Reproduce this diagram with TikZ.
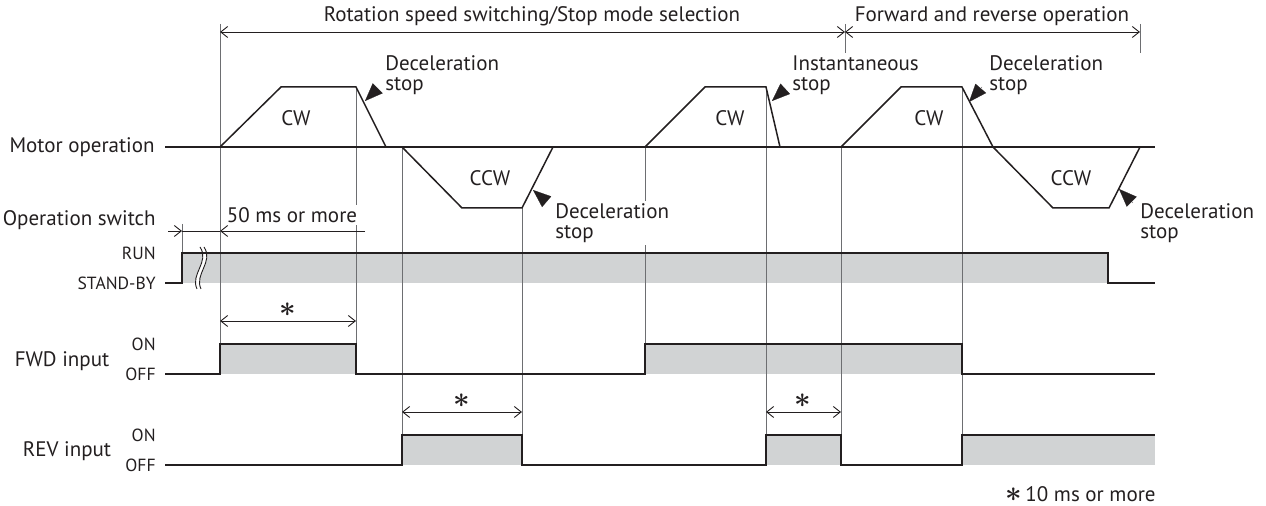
\documentclass[tikz,border=0pt]{standalone}
\usepackage{fontspec}
\setmainfont{PT Sans}
\usetikzlibrary{arrows.meta,positioning}
\definecolor{BandGray}{HTML}{D1D3D4}
\definecolor{GuideGray}{HTML}{6D6E71}
\definecolor{InkBlack}{HTML}{231F20}

\begin{document}
\begin{tikzpicture}[x=0.5pt,y=-0.5pt,
  sig/.style={InkBlack,line width=0.75pt},
  guide/.style={GuideGray,line width=0.5pt},
  dimline/.style={InkBlack,line width=0.45pt,{Straight Barb[length=3.5pt,width=5.5pt]}-{Straight Barb[length=3.5pt,width=5.5pt]}},
  halfdim/.style={InkBlack,line width=0.45pt,-{Straight Barb[length=3.5pt,width=5.5pt]}},
  band/.style={fill=BandGray},
  lbl/.style={font=\fontsize{10.5}{10}\selectfont,text=InkBlack,inner sep=1pt},
  small/.style={font=\fontsize{8.8}{8.8}\selectfont,text=InkBlack,inner sep=1pt},
  note/.style={lbl,align=left,anchor=west},
  star/.style={font=\fontsize{15}{15}\selectfont\boldmath,text=InkBlack,inner sep=0pt},
  stopmark/.style={-{Triangle[length=9pt,width=7pt]},InkBlack,line width=0.1pt}]

  \useasboundingbox (0,0) rectangle (1266,506);

  % shaded ON / RUN levels
  \fill[band] (182,253) rectangle (1108,283);
  \fill[band] (220,344) rectangle (356,374);
  \fill[band] (645,344) rectangle (962,374);
  \fill[band] (402,435) rectangle (522,465);
  \fill[band] (766,435) rectangle (841,465);
  \fill[band] (962,435) rectangle (1155,465);

  % time break on the switch line
  \fill[white] (200,247) .. controls (210,262) and (190,274) .. (197,289)
    -- (201,289) .. controls (194,274) and (214,262) .. (204,247) -- cycle;
  \draw[InkBlack,line width=0.45pt] (200,247) .. controls (210,262) and (190,274) .. (197,289);
  \draw[InkBlack,line width=0.45pt] (204,247) .. controls (214,262) and (194,274) .. (201,289);

  % guide lines
  \draw[guide] (220,24) -- (220,344);
  \draw[guide] (356,87) -- (356,344);
  \draw[guide] (402,147) -- (402,435);
  \draw[guide] (522,208) -- (522,435);
  \draw[guide] (645,147) -- (645,344);
  \draw[guide] (766,87) -- (766,435);
  \draw[guide] (841,147) -- (841,435);
  \draw[guide] (962,87) -- (962,435);
  \draw[guide] (182,224) -- (182,253);
  \draw[guide] (845,24) -- (845,53);
  \draw[guide] (1140,24) -- (1140,53);

  % motor operation
  \draw[sig] (165,147) -- (1155,147);
  \draw[sig] (220,147) -- (281,87) -- (356,87) -- (386,147);
  \draw[sig] (402,147) -- (462,208) -- (522,208) -- (553,147);
  \draw[sig] (645,147) -- (705,87) -- (766,87) -- (780,147);
  \draw[sig] (841,147) -- (901,87) -- (962,87) -- (993,147)
    -- (1053,208) -- (1109,208) -- (1140,147);

  % operation switch, FWD, REV
  \draw[sig] (165,283) -- (182,283) -- (182,253) -- (1108,253) -- (1108,283) -- (1155,283);
  \draw[sig] (165,374) -- (220,374) -- (220,344) -- (356,344) -- (356,374)
    -- (645,374) -- (645,344) -- (962,344) -- (962,374) -- (1155,374);
  \draw[sig] (165,465) -- (402,465) -- (402,435) -- (522,435) -- (522,465)
    -- (766,465) -- (766,435) -- (841,435) -- (841,465) -- (962,465) -- (962,435) -- (1155,435);

  % labels
  \node[lbl] (rotsel) at (532,16) {Rotation speed switching/Stop mode selection};
  \node[lbl] (fwdrev) at (992,16) {Forward and reverse operation};
  \node[lbl,anchor=east] (motor) at (157,147) {Motor operation};
  \node[lbl,anchor=east] (opsw) at (158,220) {Operation switch};
  \node[small,anchor=east] (run) at (158,253) {RUN};
  \node[small,anchor=east] (stby) at (158,283) {STAND-BY};
  \node[lbl] (fwd) at (62,361) {FWD input};
  \node[small,anchor=east] (fwdon) at (158,344) {ON};
  \node[small,anchor=east] (fwdoff) at (158,374) {OFF};
  \node[lbl] (rev) at (67,451) {REV input};
  \node[small,anchor=east] (revon) at (158,435) {ON};
  \node[small,anchor=east] (revoff) at (158,465) {OFF};
  \node[lbl] (cw1) at (296,118) {CW};
  \node[lbl] (ccw1) at (490,178) {CCW};
  \node[lbl] (cw2) at (730,118) {CW};
  \node[lbl] (cw3) at (929,118) {CW};
  \node[lbl] (ccw3) at (1071,178) {CCW};
  \node[note] (dec1) at (383,75) {Deceleration\\stop};
  \node[note,fill=white] (dec2) at (553,223) {Deceleration\\stop};
  \node[note] (inst) at (790,75) {Instantaneous\\stop};
  \node[note] (dec3) at (987,75) {Deceleration\\stop};
  \node[note] (dec4) at (1138,223) {Deceleration\\stop};
  \node[lbl,fill=white] (fifty) at (292,215) {50 ms or more};
  \node[star] (ast1) at (288,310) {$\ast$};
  \node[star] (ast2) at (462,401) {$\ast$};
  \node[star] (ast3) at (803,401) {$\ast$};
  \node[lbl,inner sep=0pt,anchor=base east] (tenms) at (1156,502)
    {\smash{\fontsize{15}{15}\selectfont\boldmath$\ast$}\,10 ms or more};

  % stop markers
  \draw[stopmark] (378,88) -- (365,101);
  \draw[stopmark] (547,202) -- (533,190);
  \draw[stopmark] (785,89) -- (772,101);
  \draw[stopmark] (982,87) -- (969,102);
  \draw[stopmark] (1133,203) -- (1119,189);

  % dimension arrows
  \coordinate (selL) at (220,32);
  \coordinate (selR) at (845,32);
  \coordinate (opR) at (1140,32);
  \draw[dimline] (selL) -- (selR);
  \draw[dimline] (selR) -- (opR);
  \coordinate (swA) at (168,231);
  \coordinate (swB) at (182,231);
  \coordinate (swC) at (220,231);
  \coordinate (swD) at (365,231);
  \draw[halfdim] (swA) -- (swB);
  \draw[InkBlack,line width=0.45pt] (swB) -- (swC);
  \draw[halfdim] (swD) -- (swC);
  \draw[dimline] (220,321) -- (356,321);
  \draw[dimline] (402,412) -- (522,412);
  \draw[dimline] (766,412) -- (841,412);
\end{tikzpicture}
\end{document}
